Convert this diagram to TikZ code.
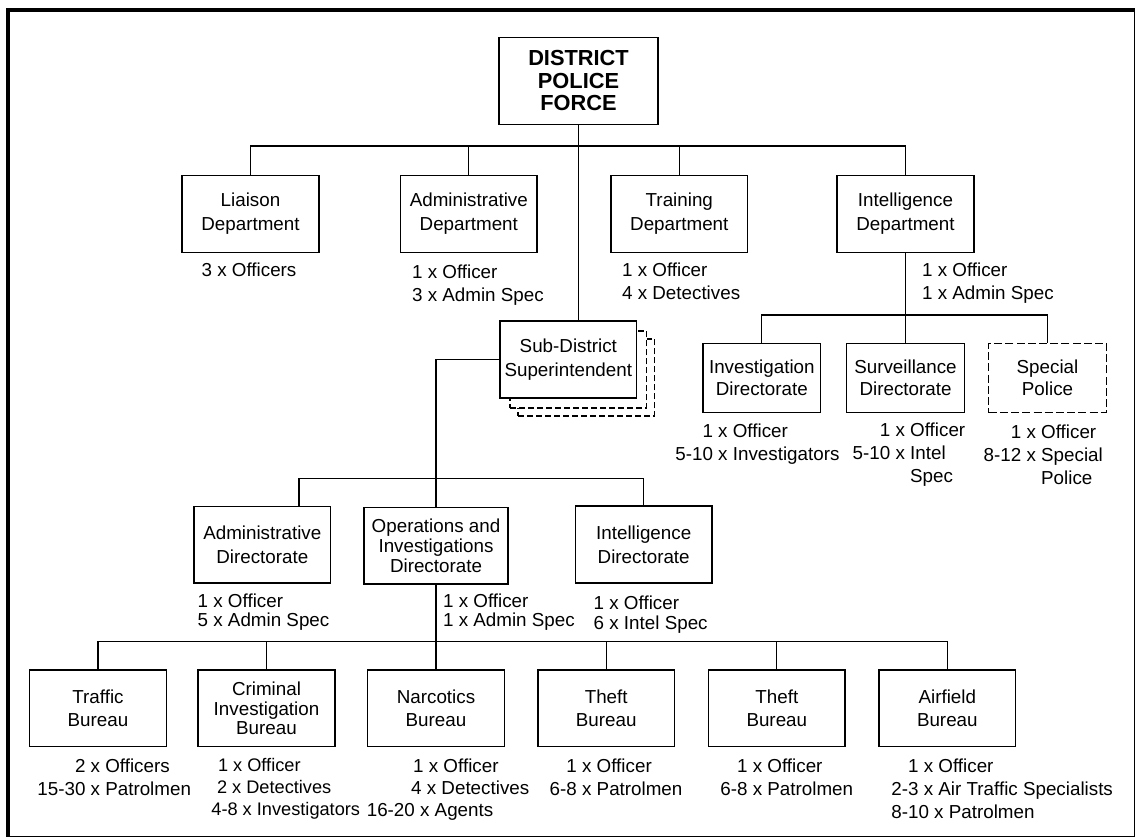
\documentclass[tikz,border=0pt]{standalone}
\usepackage{fontspec}
\setmainfont{Liberation Sans}
\newcommand{\txt}[1]{\fontsize{9.4pt}{#1pt}\selectfont}
\tikzset{
	box/.style={draw,rectangle,align=center,line width=0.75pt,inner sep=0pt,minimum width=68.3pt,minimum height=38.3pt,font=\txt{11.8}},
	subbox/.style={box,minimum width=58.8pt,minimum height=34.7pt,font=\txt{11.2}},
	shadowbox/.style={box,fill=white,dash pattern=on 3pt off 1.5pt},
	staff/.style={align=left,anchor=north west,inner sep=0pt,font=\txt{11.6}},
	link/.style={line width=0.65pt}
}
\begin{document}
\begin{tikzpicture}[x=0.5pt,y=-0.5pt]
			\useasboundingbox (0,0) rectangle (1138,838);
			\draw[line width=0.9pt] (8,10) rectangle (1134.5,836.5);
			\draw[line width=1.6pt] (8,836.5) -- (8,10) -- (1134.5,10);

			\node[box,minimum width=79.4pt,minimum height=43.5pt,font=\bfseries\fontsize{10.9pt}{11.35pt}\selectfont] (DPF) at (578.5,80.8) {DISTRICT\\POLICE\\FORCE};

			\node[coordinate] (X1) at (578.5,146) {};

			\node[box,font=\txt{12}] (LD) at (250.5,214) {Liaison\\Department};
			\node[box,font=\txt{12}] (AD) at (468.8,214) {Administrative\\Department};
			\node[box,font=\txt{12}] (TD) at (679.3,214) {Training\\Department};
			\node[box,font=\txt{12}] (ID) at (905.5,214) {Intelligence\\Department};

			\node[shadowbox] (SDS3) at (586.3,377.5) {};
			\node[shadowbox] (SDS2) at (578.3,369.5) {};
			\node[box,fill=white] (SDS) at (568.3,359.5) {Sub-District\\Superintendent};

			\node[coordinate] (X2) at (905.5,315) {};

			\node[subbox] (IVD) at (761.8,378) {Investigation\\Directorate};
			\node[subbox] (SVD) at (905.5,378) {Surveillance\\Directorate};
			\node[subbox,dash pattern=on 4pt off 1.6pt] (SP) at (1047.5,378) {Special\\Police};

			\node[coordinate] (X3) at (299,478.7) {};

			\node[box] (ADD) at (262.3,544.8) {Administrative\\Directorate};
			\node[box,minimum width=72.2pt,font=\txt{9.85}] (OID) at (436,545.8) {Operations and\\Investigations\\Directorate};
			\node[box] (IND) at (643.7,544.5) {Intelligence\\Directorate};

			\node[coordinate] (X4) at (436,641.7) {};

			\node[box] (TB) at (98,708.3) {Traffic\\Bureau};
			\node[box,font=\txt{9.85}] (CIB) at (266.5,708.3) {Criminal\\Investigation\\Bureau};
			\node[box] (NB) at (436,708.3) {Narcotics\\Bureau};
			\node[box] (TB1) at (606.2,708.3) {Theft\\Bureau};
			\node[box] (TB2) at (776.8,708.3) {Theft\\Bureau};
			\node[box] (AB) at (947.3,708.3) {Airfield\\Bureau};

			\node[staff,anchor=north] (LDs) at (249,262) {3 x Officers};
			\node[staff] (ADs) at (411.7,264.7) {1 x Officer\\3 x Admin Spec};
			\node[staff] (TDs) at (621.7,262.3) {1 x Officer\\4 x Detectives};
			\node[staff] (IDs) at (921.7,262.3) {1 x Officer\\1 x Admin Spec};
			\node[staff] (IVDs) at (675,423) {\hphantom{5-1}1 x Officer\\5-10 x Investigators};
			\node[staff] (SVDs) at (852.3,422.3) {\hphantom{5-1}1 x Officer\\5-10 x Intel\\\hphantom{5-10 x\ }Spec};
			\node[staff] (SPs) at (983.3,424) {\hphantom{8-1}1 x Officer\\8-12 x Special\\\hphantom{8-12 x\ }Police};
			\node[staff,font=\txt{9.8}] (ADDs) at (197.3,593) {1 x Officer\\5 x Admin Spec};
			\node[staff,font=\txt{9.8}] (OIDs) at (442.7,593) {1 x Officer\\1 x Admin Spec};
			\node[staff,font=\txt{10}] (INDs) at (593.3,595.7) {1 x Officer\\6 x Intel Spec};
			\node[staff] (TBs) at (37,758) {\hphantom{15-3}2 x Officers\\15-30 x Patrolmen};
			\node[staff,font=\fontsize{9.1pt}{11pt}\selectfont] (CIBs) at (211,758) {\hspace*{3.3pt}1 x Officer\\\hspace*{2.8pt}2 x Detectives\\4-8 x Investigators};
			\node[staff,font=\txt{11}] (NBs) at (366.4,758) {\hspace*{23.2pt}1 x Officer\\\hspace*{22.2pt}4 x Detectives\\16-20 x Agents};
			\node[staff] (TB1s) at (549.3,758) {\hphantom{6-}1 x Officer\\6-8 x Patrolmen};
			\node[staff] (TB2s) at (720,758) {\hphantom{6-}1 x Officer\\6-8 x Patrolmen};
			\node[staff] (ABs) at (891,758) {\hphantom{2-}1 x Officer\\2-3 x Air Traffic Specialists\\8-10 x Patrolmen};

			\draw[link] (DPF) -- (SDS.north -| DPF);
			\draw[link] (LD) |- (X1) -| (ID);
			\draw[link] (AD) -- (AD |- X1);
			\draw[link] (TD) -- (TD |- X1);
			\draw[link] (ID) -- (SVD);
			\draw[link] (IVD) |- (X2) -| (SP);
			\draw[link] (SDS) -| (OID);
			\draw[link] (ADD.north -| X3) -- (X3) -| (IND);
			\draw[link] (OID) -- (NB);
			\draw[link] (TB) |- (X4) -| (AB);
			\foreach \n in {CIB,TB1,TB2}
				\draw[link] (\n) -- (\n |- X4);
		\end{tikzpicture}
\end{document}
